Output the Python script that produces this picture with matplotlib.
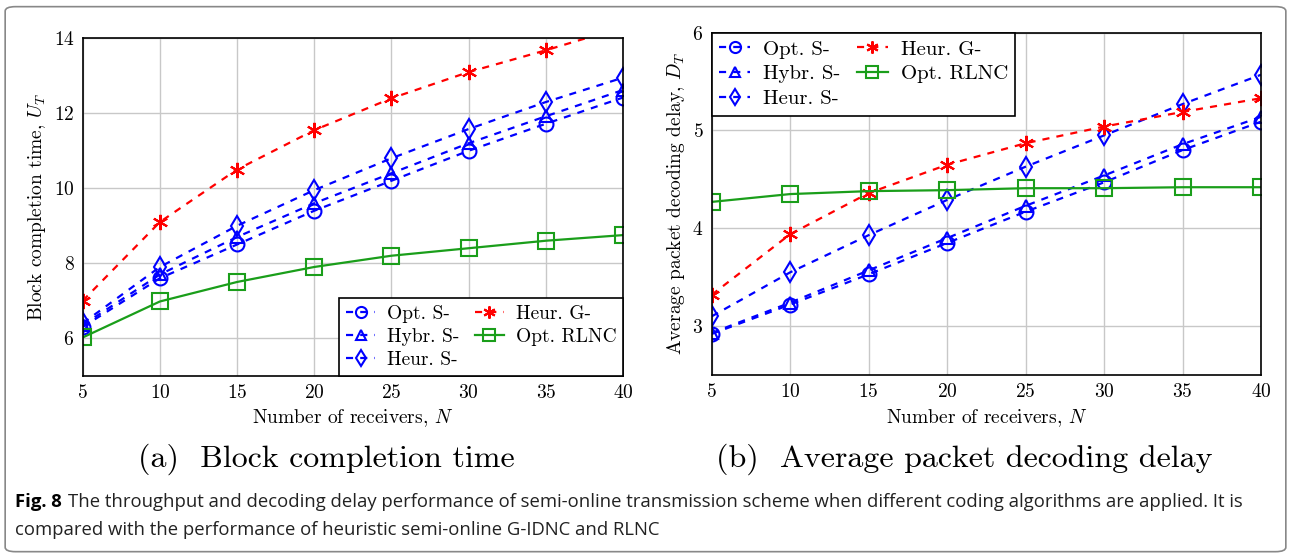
import matplotlib
matplotlib.use('Agg')
import matplotlib.pyplot as plt
from matplotlib.patches import FancyBboxPatch

plt.rcParams['font.family'] = 'cmr10'
plt.rcParams['mathtext.fontset'] = 'cm'
plt.rcParams['axes.formatter.use_mathtext'] = True

# ---- data ----
receivers = [5, 10, 15, 20, 25, 30, 35, 40]

# (a) block completion time
bct_opt_s = [6.30, 7.60, 8.50, 9.40, 10.20, 11.00, 11.72, 12.42]
bct_hybr_s = [6.35, 7.70, 8.70, 9.60, 10.40, 11.20, 11.92, 12.62]
bct_heur_s = [6.40, 7.90, 9.00, 9.95, 10.80, 11.58, 12.30, 12.95]
bct_heur_g = [7.00, 9.10, 10.50, 11.55, 12.40, 13.10, 13.68, 14.30]
bct_rlnc = [6.02, 6.98, 7.50, 7.90, 8.20, 8.40, 8.60, 8.75]

# (b) average packet decoding delay
dd_opt_s = [2.92, 3.22, 3.53, 3.85, 4.17, 4.47, 4.80, 5.09]
dd_hybr_s = [2.93, 3.24, 3.57, 3.90, 4.23, 4.54, 4.86, 5.14]
dd_heur_s = [3.10, 3.55, 3.93, 4.29, 4.63, 4.95, 5.27, 5.57]
dd_heur_g = [3.32, 3.94, 4.36, 4.65, 4.87, 5.04, 5.19, 5.33]
dd_rlnc = [4.27, 4.35, 4.38, 4.39, 4.41, 4.41, 4.42, 4.42]

labels = ['Opt. S-', 'Hybr. S-', 'Heur. S-', 'Heur. G-', 'Opt. RLNC']

blue = '#0000ff'
red = '#ff0000'
green = '#1a9e1a'
dash = (0, (3.2, 3.2))

styles = [
    dict(color=blue, ls=dash, marker='o', ms=10),
    dict(color=blue, ls=dash, marker='^', ms=9),
    dict(color=blue, ls=dash, marker='d', ms=10),
    dict(color=red, ls=dash, marker=(6, 2, 0), ms=11),
    dict(color=green, ls='-', marker='s', ms=11),
]


def draw_panel(ax, series, ylim, yticks, ylabel, legend_loc, leg_fs, leg_sp):
    for vals, st, lab in zip(series, styles, labels):
        ax.plot(receivers, vals, lw=1.6, mfc='none', mew=1.5,
                label=lab, clip_on=True, **st)
    ax.set_xlim(5, 40)
    ax.set_ylim(*ylim)
    ax.set_xticks(receivers)
    ax.set_yticks(yticks)
    ax.grid(True, color='#c8c8c8', lw=1.0)
    ax.tick_params(direction='in', length=0, labelsize=14, pad=6)
    for s in ax.spines.values():
        s.set_linewidth(1.2)
    ax.set_xlabel('Number of receivers, $N$', fontsize=14, labelpad=4)
    ax.set_ylabel(ylabel, fontsize=14, labelpad=4)
    leg = ax.legend(loc=legend_loc, ncol=2, fontsize=leg_fs, frameon=True,
                    fancybox=False, edgecolor='black', framealpha=1,
                    handlelength=1.5, handletextpad=0.6, columnspacing=0.8,
                    labelspacing=leg_sp, borderpad=0.35, borderaxespad=0,
                    markerscale=0.8)
    leg.get_frame().set_linewidth(1.2)


fig = plt.figure(figsize=(12.91, 5.55), dpi=100)

ax1 = fig.add_axes([0.0641, 0.3231, 0.4185, 0.6079])
draw_panel(ax1, [bct_opt_s, bct_hybr_s, bct_heur_s, bct_heur_g, bct_rlnc],
           (5, 14), [6, 8, 10, 12, 14], 'Block completion time, $U_T$',
           'lower right', 14, 0.25)

ax2 = fig.add_axes([0.5513, 0.3243, 0.4255, 0.6168])
draw_panel(ax2, [dd_opt_s, dd_hybr_s, dd_heur_s, dd_heur_g, dd_rlnc],
           (2.5, 6), [3, 4, 5, 6], 'Average packet decoding delay, $D_T$',
           'upper left', 15, 0.3)

fig.text(0.253, 0.172, '(a)  Block completion time', fontsize=23,
         ha='center', va='center')
fig.text(0.747, 0.172, '(b)  Average packet decoding delay', fontsize=23,
         ha='center', va='center')

cap_font = ['Liberation Sans Narrow', 'Open Sans', 'DejaVu Sans']
fig.text(0.0116, 0.095, 'Fig. 8', fontsize=13.3, fontweight='bold',
         family=cap_font, va='center')
fig.text(0.053, 0.095,
         'The throughput and decoding delay performance of semi-online '
         'transmission scheme when different coding algorithms are applied. It is',
         fontsize=13.3, family=cap_font, va='center', color='#222222')
fig.text(0.0116, 0.045,
         'compared with the performance of heuristic semi-online G-IDNC and RLNC',
         fontsize=13.3, family=cap_font, va='center', color='#222222')

border = FancyBboxPatch((0.004, 0.006), 0.992, 0.982,
                        boxstyle='round,pad=0,rounding_size=0.008',
                        transform=fig.transFigure, fill=False,
                        edgecolor='#888888', lw=1.2)
fig.patches.append(border)

fig.savefig('out.png', dpi=100)
